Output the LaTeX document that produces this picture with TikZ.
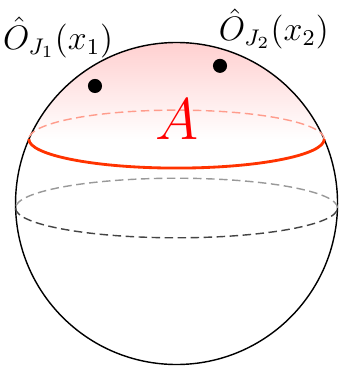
\documentclass[tikz,border=0pt]{standalone}
\usepackage{amsmath}
\usetikzlibrary{positioning}
\definecolor{Cut}{HTML}{FF3300}
\definecolor{CutBack}{HTML}{FF9C8C}
\definecolor{Blush}{HTML}{FFD0D0}
\definecolor{EqFront}{HTML}{444444}
\definecolor{EqBack}{HTML}{999999}
\tikzset{
  sphereline/.style={line width=0.5pt,draw=black},
  cutfront/.style={line width=1pt,draw=Cut},
  cutback/.style={line width=0.5pt,draw=CutBack,dash pattern=on 3pt off 1.6pt},
  eqfront/.style={line width=0.5pt,draw=EqFront,dash pattern=on 3pt off 1.6pt},
  eqback/.style={line width=0.5pt,draw=EqBack,dash pattern=on 3pt off 1.6pt},
  dot/.style={circle,minimum size=1.75mm,inner sep=0pt,fill=black,draw=none},
  oplabel/.style={inner sep=0pt,font=\fontsize{11.5}{14}\selectfont},
}

\begin{document}
\begin{tikzpicture}[x=1cm,y=1cm]
    \useasboundingbox (-2.193,-2.031) rectangle (2.019,2.528);

    % shaded cap above the cut
    \begin{scope}
      \clip (-1.835,0.8) arc[start angle=180,end angle=360,x radius=1.835,y radius=0.36]
        arc[start angle=23.58,end angle=156.42,radius=2] -- cycle;
      \shade[top color=Blush,bottom color=white] (-2,0.8) rectangle (2,2);
    \end{scope}

    \draw[sphereline] (0,0) circle[radius=2];

    % equator
    \draw[eqback] (2,-0.056) arc[start angle=0,end angle=180,x radius=2,y radius=0.37];
    \draw[eqfront] (-2,-0.056) arc[start angle=180,end angle=360,x radius=2,y radius=0.37];

    % cut
    \draw[cutback] (1.835,0.8) arc[start angle=0,end angle=180,x radius=1.835,y radius=0.36];
    \draw[cutfront] (-1.835,0.8) arc[start angle=180,end angle=360,x radius=1.835,y radius=0.36];

    \node[text=red,inner sep=0pt,font=\huge] (region) at (0,1.05) {$A$};

    \node[dot] (op1) at (-1.013,1.46) {};
    \node[dot] (op2) at (0.54,1.71) {};
    \node[oplabel] (lab1) at (-1.47,2.06) {$\hat{O}_{J_1}(x_1)$};
    \node[oplabel] (lab2) at (1.21,2.17) {$\hat{O}_{J_2}(x_2)$};
\end{tikzpicture}
\end{document}
